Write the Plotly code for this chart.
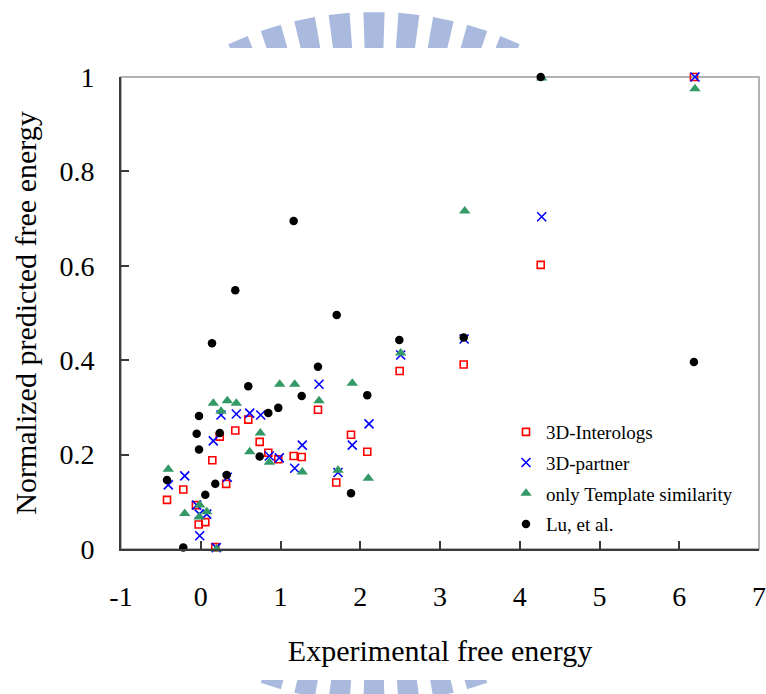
import math
import plotly.graph_objects as go

# ---------------- data ----------------
interologs_x = [2.494, 1.470, 0.596, 0.433, 0.238, 1.884, 0.739, 2.088, 0.847, 1.165, 1.266, 0.972,
                0.145, 1.699, 0.319, -0.219, -0.423, -0.061, 0.057, -0.026, 0.182, 6.184, 4.263, 3.297]
interologs_y = [0.377, 0.295, 0.274, 0.251, 0.238, 0.242, 0.227, 0.206, 0.204, 0.197, 0.195, 0.190,
                0.188, 0.141, 0.138, 0.126, 0.104, 0.093, 0.057, 0.052, 0.004, 1.000, 0.602, 0.391]

partner_x = [1.483, 0.254, 0.446, 0.614, 0.752, 0.157, 2.110, 1.273, 1.900, 0.860, 0.985, 1.178,
             1.721, -0.201, -0.407, 0.333, -0.051, -0.018, 0.075, -0.013, 0.195, 6.197, 4.275, 2.507, 3.303]
partner_y = [0.349, 0.284, 0.286, 0.288, 0.284, 0.229, 0.265, 0.220, 0.220, 0.197, 0.193, 0.171,
             0.162, 0.155, 0.136, 0.152, 0.093, 0.074, 0.074, 0.028, 0.003, 1.000, 0.704, 0.411, 0.445]

template_x = [0.990, 1.178, 1.900, 0.157, 0.333, 0.446, 1.483, 0.254, 0.747, 0.614, 0.860, 1.273,
              1.721, 2.101, -0.407, -0.201, -0.013, -0.018, 0.075, 0.200, 4.275, 6.197, 3.310, 2.507]
template_y = [0.349, 0.349, 0.351, 0.309, 0.314, 0.309, 0.314, 0.292, 0.246, 0.206, 0.184, 0.163,
              0.167, 0.150, 0.169, 0.075, 0.093, 0.068, 0.079, 0.000, 0.998, 0.975, 0.716, 0.415]

lu_x = [1.470, 0.596, -0.022, 1.266, 2.088, 0.972, 0.847, -0.051, 0.238, -0.022, 0.739, -0.423, 0.325,
        0.182, 0.057, 1.884, -0.219, 1.165, 0.433, 1.705, 0.141, 2.490, 4.263, 3.297, 6.184]
lu_y = [0.386, 0.345, 0.282, 0.324, 0.326, 0.299, 0.288, 0.244, 0.246, 0.211, 0.196, 0.146, 0.157,
        0.138, 0.115, 0.118, 0.003, 0.695, 0.548, 0.496, 0.436, 0.443, 1.000, 0.448, 0.396]

x_tickvals = [-1, 0, 1, 2, 3, 4, 5, 6, 7]
x_ticktext = ["-1", "0", "1", "2", "3", "4", "5", "6", "7"]
y_tickvals = [0, 0.2, 0.4, 0.6, 0.8, 1]
y_ticktext = ["0", "0.2", "0.4", "0.6", "0.8", "1"]

# ---------------- figure ----------------
W, H = 766, 694
L, R, T, B = 121, 7, 77, 145
PW, PH = W - L - R, H - T - B
FONT = "Liberation Serif"

fig = go.Figure()
fig.add_trace(go.Scatter(x=interologs_x, y=interologs_y, mode="markers", name="3D-Interologs",
                         legendgroup="a",
                         marker=dict(symbol="square-open", size=7, color="#ff0000", line=dict(width=1.6, color="#ff0000")),
                         cliponaxis=False))
fig.add_trace(go.Scatter(x=partner_x, y=partner_y, mode="markers", name="3D-partner",
                         legendgroup="b",
                         marker=dict(symbol="x-thin-open", size=9, color="#0000ff", line=dict(width=1.6, color="#0000ff")),
                         cliponaxis=False))
fig.add_trace(go.Scatter(x=template_x, y=template_y, mode="markers", name="only Template similarity",
                         legendgroup="c",
                         marker=dict(symbol="triangle-up", size=10, color="#339966"),
                         cliponaxis=False))
fig.add_trace(go.Scatter(x=lu_x, y=lu_y, mode="markers", name="Lu, et al.",
                         legendgroup="d",
                         marker=dict(symbol="circle", size=8.5, color="#000000"),
                         cliponaxis=False))

# ---- watermark (radial bars of a faint logo, partly hidden behind the chart) ----
def px2paper(px, py):
    return (px - L) / PW, (T + PH - py) / PH

cx, cy, Ro, Ri = 374, 357, 345, 300
shapes = []
n = 62
half = math.radians(1.75)
for k in range(n):
    a = 2 * math.pi * k / n
    pts = []
    for rr, da in ((Ro, -half), (Ro, half), (Ri, half), (Ri, -half)):
        ang = a + da
        px = cx + rr * math.sin(ang)
        py = cy - rr * math.cos(ang)
        pts.append(px2paper(px, py))
    path = "M " + " L ".join(f"{p[0]:.4f},{p[1]:.4f}" for p in pts) + " Z"
    shapes.append(dict(type="path", path=path, xref="paper", yref="paper", layer="below",
                       fillcolor="rgb(170,186,222)", line=dict(width=0)))
x0, y0 = px2paper(-5, 48)
x1, y1 = px2paper(W + 5, 680)
shapes.append(dict(type="rect", xref="paper", yref="paper", x0=x0, x1=x1, y0=y1, y1=y0,
                   fillcolor="white", line=dict(width=0), layer="below"))
# plot-area border (grey top/right)
shapes.append(dict(type="rect", xref="paper", yref="paper", x0=0, x1=1, y0=0, y1=1,
                   line=dict(color="#9a9a9a", width=1.5), layer="below"))

fig.update_layout(
    width=W, height=H,
    margin=dict(l=L, r=R, t=T, b=B, autoexpand=False),
    paper_bgcolor="white", plot_bgcolor="rgba(0,0,0,0)",
    font=dict(family=FONT, color="black"),
    shapes=shapes,
    showlegend=True,
    legend=dict(x=(506 - L) / PW, y=(T + PH - 413) / PH, xanchor="left", yanchor="top",
                bgcolor="rgba(0,0,0,0)", font=dict(family=FONT, size=19, color="black"),
                tracegroupgap=3, itemsizing="trace"),
)
fig.update_xaxes(range=[-1, 7], tickvals=x_tickvals, ticktext=x_ticktext,
                 showgrid=False, zeroline=False, showline=True, linecolor="#3a3a3a", linewidth=2,
                 ticks="inside", ticklen=8, tickwidth=1.5, tickcolor="#3a3a3a",
                 tickfont=dict(family=FONT, size=28), ticklabelstandoff=21,
                 title=dict(text="Experimental free energy", font=dict(family=FONT, size=30), standoff=29))
fig.update_yaxes(range=[0, 1], tickvals=y_tickvals, ticktext=y_ticktext,
                 showgrid=False, zeroline=False, showline=True, linecolor="#3a3a3a", linewidth=2,
                 ticks="inside", ticklen=8, tickwidth=1.5, tickcolor="#3a3a3a",
                 tickfont=dict(family=FONT, size=28), ticklabelstandoff=19,
                 title=dict(text="Normalized predicted free energy", font=dict(family=FONT, size=30), standoff=14))

fig.write_html("out.html")
